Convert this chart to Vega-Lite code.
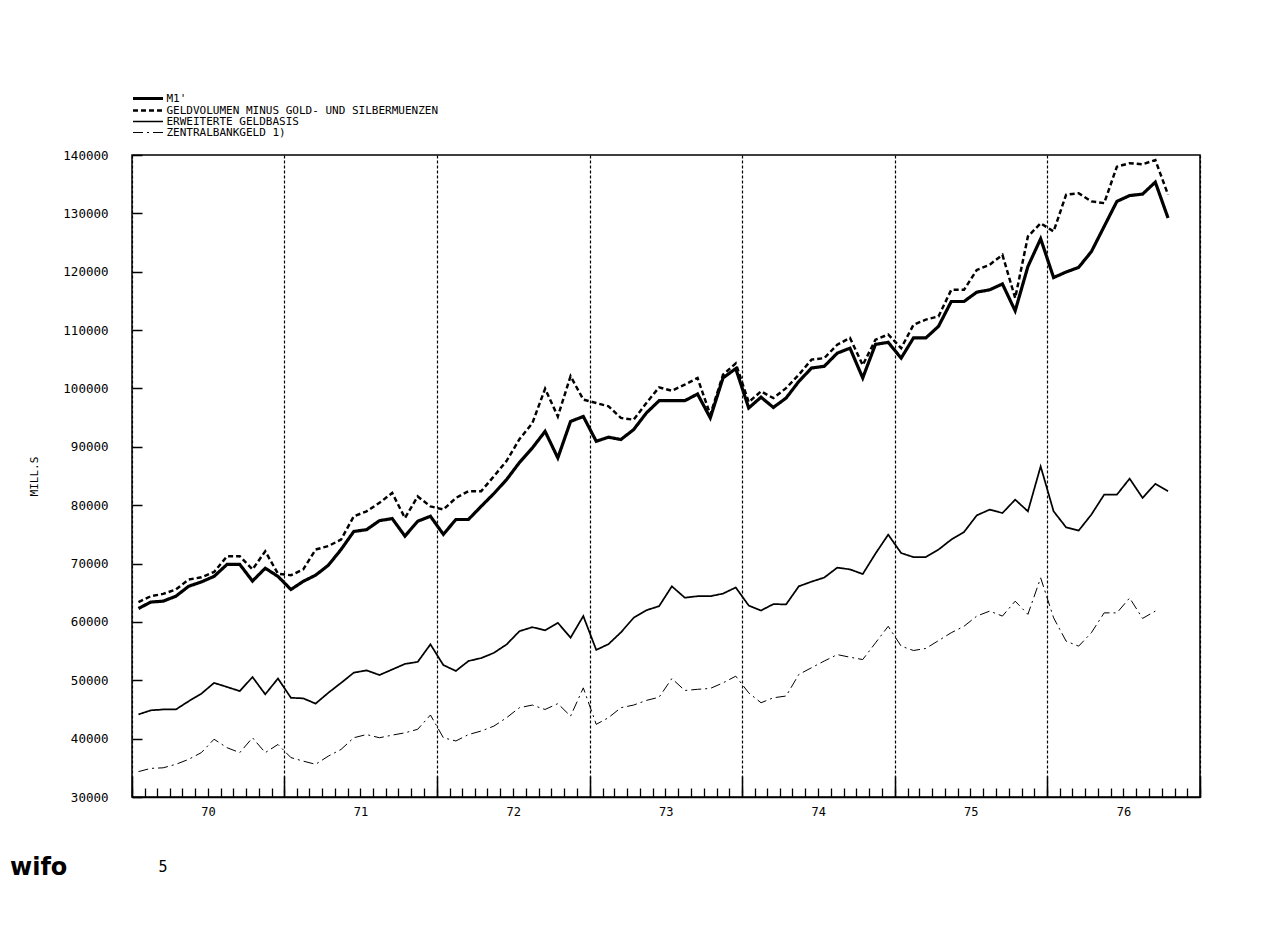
{
  "$schema": "https://vega.github.io/schema/vega-lite/v6.json",
  "width": 1068,
  "height": 642,
  "autosize": {"type": "none"},
  "padding": {"left": 132, "top": 155, "right": 68, "bottom": 138},
  "background": "white",
  "config": {
    "view": {"stroke": "black", "strokeWidth": 1.5},
    "font": "DejaVu Sans Mono",
    "axis": {"labelColor": "black", "titleColor": "black", "labelFont": "DejaVu Sans Mono", "titleFont": "DejaVu Sans Mono"}
  },
  "title": {
    "text": "wifo",
    "orient": "bottom",
    "anchor": "start",
    "frame": "group",
    "dx": -122,
    "offset": -18,
    "font": "DejaVu Sans",
    "fontSize": 24,
    "fontWeight": "bold",
    "color": "black"
  },
  "data": {"values": [
    {"date":"1970-01","series":"M1'","value":62300},{"date":"1970-02","series":"M1'","value":63400},{"date":"1970-03","series":"M1'","value":63550},{"date":"1970-04","series":"M1'","value":64400},{"date":"1970-05","series":"M1'","value":66100},{"date":"1970-06","series":"M1'","value":66850},{"date":"1970-07","series":"M1'","value":67800},{"date":"1970-08","series":"M1'","value":69850},{"date":"1970-09","series":"M1'","value":69850},{"date":"1970-10","series":"M1'","value":67000},{"date":"1970-11","series":"M1'","value":69200},{"date":"1970-12","series":"M1'","value":67800},
    {"date":"1971-01","series":"M1'","value":65550},{"date":"1971-02","series":"M1'","value":66950},{"date":"1971-03","series":"M1'","value":68000},{"date":"1971-04","series":"M1'","value":69700},{"date":"1971-05","series":"M1'","value":72400},{"date":"1971-06","series":"M1'","value":75500},{"date":"1971-07","series":"M1'","value":75800},{"date":"1971-08","series":"M1'","value":77350},{"date":"1971-09","series":"M1'","value":77700},{"date":"1971-10","series":"M1'","value":74700},{"date":"1971-11","series":"M1'","value":77250},{"date":"1971-12","series":"M1'","value":78100},
    {"date":"1972-01","series":"M1'","value":75000},{"date":"1972-02","series":"M1'","value":77550},{"date":"1972-03","series":"M1'","value":77550},{"date":"1972-04","series":"M1'","value":79800},{"date":"1972-05","series":"M1'","value":82000},{"date":"1972-06","series":"M1'","value":84400},{"date":"1972-07","series":"M1'","value":87300},{"date":"1972-08","series":"M1'","value":89800},{"date":"1972-09","series":"M1'","value":92650},{"date":"1972-10","series":"M1'","value":88100},{"date":"1972-11","series":"M1'","value":94350},{"date":"1972-12","series":"M1'","value":95200},
    {"date":"1973-01","series":"M1'","value":90950},{"date":"1973-02","series":"M1'","value":91650},{"date":"1973-03","series":"M1'","value":91250},{"date":"1973-04","series":"M1'","value":92950},{"date":"1973-05","series":"M1'","value":95800},{"date":"1973-06","series":"M1'","value":97900},{"date":"1973-07","series":"M1'","value":97900},{"date":"1973-08","series":"M1'","value":97900},{"date":"1973-09","series":"M1'","value":99050},{"date":"1973-10","series":"M1'","value":94950},{"date":"1973-11","series":"M1'","value":101800},{"date":"1973-12","series":"M1'","value":103400},
    {"date":"1974-01","series":"M1'","value":96650},{"date":"1974-02","series":"M1'","value":98500},{"date":"1974-03","series":"M1'","value":96750},{"date":"1974-04","series":"M1'","value":98350},{"date":"1974-05","series":"M1'","value":101200},{"date":"1974-06","series":"M1'","value":103500},{"date":"1974-07","series":"M1'","value":103800},{"date":"1974-08","series":"M1'","value":106050},{"date":"1974-09","series":"M1'","value":106900},{"date":"1974-10","series":"M1'","value":101800},{"date":"1974-11","series":"M1'","value":107550},{"date":"1974-12","series":"M1'","value":107900},
    {"date":"1975-01","series":"M1'","value":105200},{"date":"1975-02","series":"M1'","value":108650},{"date":"1975-03","series":"M1'","value":108650},{"date":"1975-04","series":"M1'","value":110650},{"date":"1975-05","series":"M1'","value":114900},{"date":"1975-06","series":"M1'","value":114900},{"date":"1975-07","series":"M1'","value":116500},{"date":"1975-08","series":"M1'","value":116900},{"date":"1975-09","series":"M1'","value":117900},{"date":"1975-10","series":"M1'","value":113300},{"date":"1975-11","series":"M1'","value":120900},{"date":"1975-12","series":"M1'","value":125650},
    {"date":"1976-01","series":"M1'","value":119000},{"date":"1976-02","series":"M1'","value":119950},{"date":"1976-03","series":"M1'","value":120750},{"date":"1976-04","series":"M1'","value":123450},{"date":"1976-05","series":"M1'","value":127750},{"date":"1976-06","series":"M1'","value":132050},{"date":"1976-07","series":"M1'","value":133050},{"date":"1976-08","series":"M1'","value":133300},{"date":"1976-09","series":"M1'","value":135350},{"date":"1976-10","series":"M1'","value":129200},

    {"date":"1970-01","series":"GELDVOLUMEN MINUS GOLD- UND SILBERMUENZEN","value":63400},{"date":"1970-02","series":"GELDVOLUMEN MINUS GOLD- UND SILBERMUENZEN","value":64400},{"date":"1970-03","series":"GELDVOLUMEN MINUS GOLD- UND SILBERMUENZEN","value":64800},{"date":"1970-04","series":"GELDVOLUMEN MINUS GOLD- UND SILBERMUENZEN","value":65550},{"date":"1970-05","series":"GELDVOLUMEN MINUS GOLD- UND SILBERMUENZEN","value":67250},{"date":"1970-06","series":"GELDVOLUMEN MINUS GOLD- UND SILBERMUENZEN","value":67650},{"date":"1970-07","series":"GELDVOLUMEN MINUS GOLD- UND SILBERMUENZEN","value":68550},{"date":"1970-08","series":"GELDVOLUMEN MINUS GOLD- UND SILBERMUENZEN","value":71250},{"date":"1970-09","series":"GELDVOLUMEN MINUS GOLD- UND SILBERMUENZEN","value":71250},{"date":"1970-10","series":"GELDVOLUMEN MINUS GOLD- UND SILBERMUENZEN","value":69000},{"date":"1970-11","series":"GELDVOLUMEN MINUS GOLD- UND SILBERMUENZEN","value":72100},{"date":"1970-12","series":"GELDVOLUMEN MINUS GOLD- UND SILBERMUENZEN","value":68250},
    {"date":"1971-01","series":"GELDVOLUMEN MINUS GOLD- UND SILBERMUENZEN","value":68000},{"date":"1971-02","series":"GELDVOLUMEN MINUS GOLD- UND SILBERMUENZEN","value":69000},{"date":"1971-03","series":"GELDVOLUMEN MINUS GOLD- UND SILBERMUENZEN","value":72400},{"date":"1971-04","series":"GELDVOLUMEN MINUS GOLD- UND SILBERMUENZEN","value":73000},{"date":"1971-05","series":"GELDVOLUMEN MINUS GOLD- UND SILBERMUENZEN","value":74100},{"date":"1971-06","series":"GELDVOLUMEN MINUS GOLD- UND SILBERMUENZEN","value":78100},{"date":"1971-07","series":"GELDVOLUMEN MINUS GOLD- UND SILBERMUENZEN","value":78950},{"date":"1971-08","series":"GELDVOLUMEN MINUS GOLD- UND SILBERMUENZEN","value":80400},{"date":"1971-09","series":"GELDVOLUMEN MINUS GOLD- UND SILBERMUENZEN","value":82100},{"date":"1971-10","series":"GELDVOLUMEN MINUS GOLD- UND SILBERMUENZEN","value":77800},{"date":"1971-11","series":"GELDVOLUMEN MINUS GOLD- UND SILBERMUENZEN","value":81500},{"date":"1971-12","series":"GELDVOLUMEN MINUS GOLD- UND SILBERMUENZEN","value":79800},
    {"date":"1972-01","series":"GELDVOLUMEN MINUS GOLD- UND SILBERMUENZEN","value":79250},{"date":"1972-02","series":"GELDVOLUMEN MINUS GOLD- UND SILBERMUENZEN","value":81250},{"date":"1972-03","series":"GELDVOLUMEN MINUS GOLD- UND SILBERMUENZEN","value":82400},{"date":"1972-04","series":"GELDVOLUMEN MINUS GOLD- UND SILBERMUENZEN","value":82400},{"date":"1972-05","series":"GELDVOLUMEN MINUS GOLD- UND SILBERMUENZEN","value":84950},{"date":"1972-06","series":"GELDVOLUMEN MINUS GOLD- UND SILBERMUENZEN","value":87600},{"date":"1972-07","series":"GELDVOLUMEN MINUS GOLD- UND SILBERMUENZEN","value":91300},{"date":"1972-08","series":"GELDVOLUMEN MINUS GOLD- UND SILBERMUENZEN","value":94050},{"date":"1972-09","series":"GELDVOLUMEN MINUS GOLD- UND SILBERMUENZEN","value":99950},{"date":"1972-10","series":"GELDVOLUMEN MINUS GOLD- UND SILBERMUENZEN","value":95200},{"date":"1972-11","series":"GELDVOLUMEN MINUS GOLD- UND SILBERMUENZEN","value":102100},{"date":"1972-12","series":"GELDVOLUMEN MINUS GOLD- UND SILBERMUENZEN","value":98100},
    {"date":"1973-01","series":"GELDVOLUMEN MINUS GOLD- UND SILBERMUENZEN","value":97500},{"date":"1973-02","series":"GELDVOLUMEN MINUS GOLD- UND SILBERMUENZEN","value":96950},{"date":"1973-03","series":"GELDVOLUMEN MINUS GOLD- UND SILBERMUENZEN","value":94950},{"date":"1973-04","series":"GELDVOLUMEN MINUS GOLD- UND SILBERMUENZEN","value":94650},{"date":"1973-05","series":"GELDVOLUMEN MINUS GOLD- UND SILBERMUENZEN","value":97500},{"date":"1973-06","series":"GELDVOLUMEN MINUS GOLD- UND SILBERMUENZEN","value":100200},{"date":"1973-07","series":"GELDVOLUMEN MINUS GOLD- UND SILBERMUENZEN","value":99600},{"date":"1973-08","series":"GELDVOLUMEN MINUS GOLD- UND SILBERMUENZEN","value":100650},{"date":"1973-09","series":"GELDVOLUMEN MINUS GOLD- UND SILBERMUENZEN","value":101800},{"date":"1973-10","series":"GELDVOLUMEN MINUS GOLD- UND SILBERMUENZEN","value":95500},{"date":"1973-11","series":"GELDVOLUMEN MINUS GOLD- UND SILBERMUENZEN","value":102350},{"date":"1973-12","series":"GELDVOLUMEN MINUS GOLD- UND SILBERMUENZEN","value":104300},
    {"date":"1974-01","series":"GELDVOLUMEN MINUS GOLD- UND SILBERMUENZEN","value":97650},{"date":"1974-02","series":"GELDVOLUMEN MINUS GOLD- UND SILBERMUENZEN","value":99500},{"date":"1974-03","series":"GELDVOLUMEN MINUS GOLD- UND SILBERMUENZEN","value":98350},{"date":"1974-04","series":"GELDVOLUMEN MINUS GOLD- UND SILBERMUENZEN","value":100050},{"date":"1974-05","series":"GELDVOLUMEN MINUS GOLD- UND SILBERMUENZEN","value":102350},{"date":"1974-06","series":"GELDVOLUMEN MINUS GOLD- UND SILBERMUENZEN","value":104950},{"date":"1974-07","series":"GELDVOLUMEN MINUS GOLD- UND SILBERMUENZEN","value":105200},{"date":"1974-08","series":"GELDVOLUMEN MINUS GOLD- UND SILBERMUENZEN","value":107500},{"date":"1974-09","series":"GELDVOLUMEN MINUS GOLD- UND SILBERMUENZEN","value":108650},{"date":"1974-10","series":"GELDVOLUMEN MINUS GOLD- UND SILBERMUENZEN","value":104000},{"date":"1974-11","series":"GELDVOLUMEN MINUS GOLD- UND SILBERMUENZEN","value":108350},{"date":"1974-12","series":"GELDVOLUMEN MINUS GOLD- UND SILBERMUENZEN","value":109250},
    {"date":"1975-01","series":"GELDVOLUMEN MINUS GOLD- UND SILBERMUENZEN","value":106900},{"date":"1975-02","series":"GELDVOLUMEN MINUS GOLD- UND SILBERMUENZEN","value":110900},{"date":"1975-03","series":"GELDVOLUMEN MINUS GOLD- UND SILBERMUENZEN","value":111800},{"date":"1975-04","series":"GELDVOLUMEN MINUS GOLD- UND SILBERMUENZEN","value":112350},{"date":"1975-05","series":"GELDVOLUMEN MINUS GOLD- UND SILBERMUENZEN","value":116900},{"date":"1975-06","series":"GELDVOLUMEN MINUS GOLD- UND SILBERMUENZEN","value":116900},{"date":"1975-07","series":"GELDVOLUMEN MINUS GOLD- UND SILBERMUENZEN","value":120300},{"date":"1975-08","series":"GELDVOLUMEN MINUS GOLD- UND SILBERMUENZEN","value":121200},{"date":"1975-09","series":"GELDVOLUMEN MINUS GOLD- UND SILBERMUENZEN","value":122900},{"date":"1975-10","series":"GELDVOLUMEN MINUS GOLD- UND SILBERMUENZEN","value":115500},{"date":"1975-11","series":"GELDVOLUMEN MINUS GOLD- UND SILBERMUENZEN","value":126050},{"date":"1975-12","series":"GELDVOLUMEN MINUS GOLD- UND SILBERMUENZEN","value":128300},
    {"date":"1976-01","series":"GELDVOLUMEN MINUS GOLD- UND SILBERMUENZEN","value":126900},{"date":"1976-02","series":"GELDVOLUMEN MINUS GOLD- UND SILBERMUENZEN","value":133200},{"date":"1976-03","series":"GELDVOLUMEN MINUS GOLD- UND SILBERMUENZEN","value":133450},{"date":"1976-04","series":"GELDVOLUMEN MINUS GOLD- UND SILBERMUENZEN","value":132050},{"date":"1976-05","series":"GELDVOLUMEN MINUS GOLD- UND SILBERMUENZEN","value":131750},{"date":"1976-06","series":"GELDVOLUMEN MINUS GOLD- UND SILBERMUENZEN","value":138000},{"date":"1976-07","series":"GELDVOLUMEN MINUS GOLD- UND SILBERMUENZEN","value":138600},{"date":"1976-08","series":"GELDVOLUMEN MINUS GOLD- UND SILBERMUENZEN","value":138400},{"date":"1976-09","series":"GELDVOLUMEN MINUS GOLD- UND SILBERMUENZEN","value":139150},{"date":"1976-10","series":"GELDVOLUMEN MINUS GOLD- UND SILBERMUENZEN","value":133200},

    {"date":"1970-01","series":"ERWEITERTE GELDBASIS","value":44150},{"date":"1970-02","series":"ERWEITERTE GELDBASIS","value":44850},{"date":"1970-03","series":"ERWEITERTE GELDBASIS","value":45000},{"date":"1970-04","series":"ERWEITERTE GELDBASIS","value":45000},{"date":"1970-05","series":"ERWEITERTE GELDBASIS","value":46400},{"date":"1970-06","series":"ERWEITERTE GELDBASIS","value":47700},{"date":"1970-07","series":"ERWEITERTE GELDBASIS","value":49550},{"date":"1970-08","series":"ERWEITERTE GELDBASIS","value":48850},{"date":"1970-09","series":"ERWEITERTE GELDBASIS","value":48150},{"date":"1970-10","series":"ERWEITERTE GELDBASIS","value":50550},{"date":"1970-11","series":"ERWEITERTE GELDBASIS","value":47600},{"date":"1970-12","series":"ERWEITERTE GELDBASIS","value":50300},
    {"date":"1971-01","series":"ERWEITERTE GELDBASIS","value":47000},{"date":"1971-02","series":"ERWEITERTE GELDBASIS","value":46900},{"date":"1971-03","series":"ERWEITERTE GELDBASIS","value":46000},{"date":"1971-04","series":"ERWEITERTE GELDBASIS","value":47850},{"date":"1971-05","series":"ERWEITERTE GELDBASIS","value":49550},{"date":"1971-06","series":"ERWEITERTE GELDBASIS","value":51300},{"date":"1971-07","series":"ERWEITERTE GELDBASIS","value":51700},{"date":"1971-08","series":"ERWEITERTE GELDBASIS","value":50900},{"date":"1971-09","series":"ERWEITERTE GELDBASIS","value":51850},{"date":"1971-10","series":"ERWEITERTE GELDBASIS","value":52800},{"date":"1971-11","series":"ERWEITERTE GELDBASIS","value":53150},{"date":"1971-12","series":"ERWEITERTE GELDBASIS","value":56150},
    {"date":"1972-01","series":"ERWEITERTE GELDBASIS","value":52600},{"date":"1972-02","series":"ERWEITERTE GELDBASIS","value":51600},{"date":"1972-03","series":"ERWEITERTE GELDBASIS","value":53300},{"date":"1972-04","series":"ERWEITERTE GELDBASIS","value":53800},{"date":"1972-05","series":"ERWEITERTE GELDBASIS","value":54700},{"date":"1972-06","series":"ERWEITERTE GELDBASIS","value":56150},{"date":"1972-07","series":"ERWEITERTE GELDBASIS","value":58400},{"date":"1972-08","series":"ERWEITERTE GELDBASIS","value":59100},{"date":"1972-09","series":"ERWEITERTE GELDBASIS","value":58550},{"date":"1972-10","series":"ERWEITERTE GELDBASIS","value":59850},{"date":"1972-11","series":"ERWEITERTE GELDBASIS","value":57300},{"date":"1972-12","series":"ERWEITERTE GELDBASIS","value":61000},
    {"date":"1973-01","series":"ERWEITERTE GELDBASIS","value":55200},{"date":"1973-02","series":"ERWEITERTE GELDBASIS","value":56200},{"date":"1973-03","series":"ERWEITERTE GELDBASIS","value":58200},{"date":"1973-04","series":"ERWEITERTE GELDBASIS","value":60700},{"date":"1973-05","series":"ERWEITERTE GELDBASIS","value":62000},{"date":"1973-06","series":"ERWEITERTE GELDBASIS","value":62700},{"date":"1973-07","series":"ERWEITERTE GELDBASIS","value":66100},{"date":"1973-08","series":"ERWEITERTE GELDBASIS","value":64150},{"date":"1973-09","series":"ERWEITERTE GELDBASIS","value":64400},{"date":"1973-10","series":"ERWEITERTE GELDBASIS","value":64400},{"date":"1973-11","series":"ERWEITERTE GELDBASIS","value":64850},{"date":"1973-12","series":"ERWEITERTE GELDBASIS","value":65900},
    {"date":"1974-01","series":"ERWEITERTE GELDBASIS","value":62800},{"date":"1974-02","series":"ERWEITERTE GELDBASIS","value":61950},{"date":"1974-03","series":"ERWEITERTE GELDBASIS","value":63050},{"date":"1974-04","series":"ERWEITERTE GELDBASIS","value":63000},{"date":"1974-05","series":"ERWEITERTE GELDBASIS","value":66100},{"date":"1974-06","series":"ERWEITERTE GELDBASIS","value":66900},{"date":"1974-07","series":"ERWEITERTE GELDBASIS","value":67600},{"date":"1974-08","series":"ERWEITERTE GELDBASIS","value":69300},{"date":"1974-09","series":"ERWEITERTE GELDBASIS","value":69000},{"date":"1974-10","series":"ERWEITERTE GELDBASIS","value":68200},{"date":"1974-11","series":"ERWEITERTE GELDBASIS","value":71700},{"date":"1974-12","series":"ERWEITERTE GELDBASIS","value":74950},
    {"date":"1975-01","series":"ERWEITERTE GELDBASIS","value":71800},{"date":"1975-02","series":"ERWEITERTE GELDBASIS","value":71100},{"date":"1975-03","series":"ERWEITERTE GELDBASIS","value":71100},{"date":"1975-04","series":"ERWEITERTE GELDBASIS","value":72400},{"date":"1975-05","series":"ERWEITERTE GELDBASIS","value":74100},{"date":"1975-06","series":"ERWEITERTE GELDBASIS","value":75400},{"date":"1975-07","series":"ERWEITERTE GELDBASIS","value":78250},{"date":"1975-08","series":"ERWEITERTE GELDBASIS","value":79250},{"date":"1975-09","series":"ERWEITERTE GELDBASIS","value":78650},{"date":"1975-10","series":"ERWEITERTE GELDBASIS","value":80950},{"date":"1975-11","series":"ERWEITERTE GELDBASIS","value":78950},{"date":"1975-12","series":"ERWEITERTE GELDBASIS","value":86650},
    {"date":"1976-01","series":"ERWEITERTE GELDBASIS","value":78950},{"date":"1976-02","series":"ERWEITERTE GELDBASIS","value":76200},{"date":"1976-03","series":"ERWEITERTE GELDBASIS","value":75650},{"date":"1976-04","series":"ERWEITERTE GELDBASIS","value":78400},{"date":"1976-05","series":"ERWEITERTE GELDBASIS","value":81800},{"date":"1976-06","series":"ERWEITERTE GELDBASIS","value":81800},{"date":"1976-07","series":"ERWEITERTE GELDBASIS","value":84550},{"date":"1976-08","series":"ERWEITERTE GELDBASIS","value":81250},{"date":"1976-09","series":"ERWEITERTE GELDBASIS","value":83650},{"date":"1976-10","series":"ERWEITERTE GELDBASIS","value":82400},

    {"date":"1970-01","series":"ZENTRALBANKGELD 1)","value":34350},{"date":"1970-02","series":"ZENTRALBANKGELD 1)","value":34900},{"date":"1970-03","series":"ZENTRALBANKGELD 1)","value":35000},{"date":"1970-04","series":"ZENTRALBANKGELD 1)","value":35600},{"date":"1970-05","series":"ZENTRALBANKGELD 1)","value":36450},{"date":"1970-06","series":"ZENTRALBANKGELD 1)","value":37600},{"date":"1970-07","series":"ZENTRALBANKGELD 1)","value":39900},{"date":"1970-08","series":"ZENTRALBANKGELD 1)","value":38450},{"date":"1970-09","series":"ZENTRALBANKGELD 1)","value":37600},{"date":"1970-10","series":"ZENTRALBANKGELD 1)","value":40150},{"date":"1970-11","series":"ZENTRALBANKGELD 1)","value":37600},{"date":"1970-12","series":"ZENTRALBANKGELD 1)","value":39000},
    {"date":"1971-01","series":"ZENTRALBANKGELD 1)","value":36750},{"date":"1971-02","series":"ZENTRALBANKGELD 1)","value":36150},{"date":"1971-03","series":"ZENTRALBANKGELD 1)","value":35600},{"date":"1971-04","series":"ZENTRALBANKGELD 1)","value":37000},{"date":"1971-05","series":"ZENTRALBANKGELD 1)","value":38150},{"date":"1971-06","series":"ZENTRALBANKGELD 1)","value":40150},{"date":"1971-07","series":"ZENTRALBANKGELD 1)","value":40700},{"date":"1971-08","series":"ZENTRALBANKGELD 1)","value":40150},{"date":"1971-09","series":"ZENTRALBANKGELD 1)","value":40600},{"date":"1971-10","series":"ZENTRALBANKGELD 1)","value":41000},{"date":"1971-11","series":"ZENTRALBANKGELD 1)","value":41600},{"date":"1971-12","series":"ZENTRALBANKGELD 1)","value":44050},
    {"date":"1972-01","series":"ZENTRALBANKGELD 1)","value":40150},{"date":"1972-02","series":"ZENTRALBANKGELD 1)","value":39600},{"date":"1972-03","series":"ZENTRALBANKGELD 1)","value":40700},{"date":"1972-04","series":"ZENTRALBANKGELD 1)","value":41300},{"date":"1972-05","series":"ZENTRALBANKGELD 1)","value":42150},{"date":"1972-06","series":"ZENTRALBANKGELD 1)","value":43600},{"date":"1972-07","series":"ZENTRALBANKGELD 1)","value":45300},{"date":"1972-08","series":"ZENTRALBANKGELD 1)","value":45750},{"date":"1972-09","series":"ZENTRALBANKGELD 1)","value":45000},{"date":"1972-10","series":"ZENTRALBANKGELD 1)","value":46000},{"date":"1972-11","series":"ZENTRALBANKGELD 1)","value":43850},{"date":"1972-12","series":"ZENTRALBANKGELD 1)","value":48700},
    {"date":"1973-01","series":"ZENTRALBANKGELD 1)","value":42450},{"date":"1973-02","series":"ZENTRALBANKGELD 1)","value":43600},{"date":"1973-03","series":"ZENTRALBANKGELD 1)","value":45300},{"date":"1973-04","series":"ZENTRALBANKGELD 1)","value":45750},{"date":"1973-05","series":"ZENTRALBANKGELD 1)","value":46550},{"date":"1973-06","series":"ZENTRALBANKGELD 1)","value":47100},{"date":"1973-07","series":"ZENTRALBANKGELD 1)","value":50300},{"date":"1973-08","series":"ZENTRALBANKGELD 1)","value":48250},{"date":"1973-09","series":"ZENTRALBANKGELD 1)","value":48450},{"date":"1973-10","series":"ZENTRALBANKGELD 1)","value":48600},{"date":"1973-11","series":"ZENTRALBANKGELD 1)","value":49550},{"date":"1973-12","series":"ZENTRALBANKGELD 1)","value":50700},
    {"date":"1974-01","series":"ZENTRALBANKGELD 1)","value":47850},{"date":"1974-02","series":"ZENTRALBANKGELD 1)","value":46150},{"date":"1974-03","series":"ZENTRALBANKGELD 1)","value":47000},{"date":"1974-04","series":"ZENTRALBANKGELD 1)","value":47300},{"date":"1974-05","series":"ZENTRALBANKGELD 1)","value":51000},{"date":"1974-06","series":"ZENTRALBANKGELD 1)","value":52150},{"date":"1974-07","series":"ZENTRALBANKGELD 1)","value":53300},{"date":"1974-08","series":"ZENTRALBANKGELD 1)","value":54400},{"date":"1974-09","series":"ZENTRALBANKGELD 1)","value":53950},{"date":"1974-10","series":"ZENTRALBANKGELD 1)","value":53550},{"date":"1974-11","series":"ZENTRALBANKGELD 1)","value":56400},{"date":"1974-12","series":"ZENTRALBANKGELD 1)","value":59250},
    {"date":"1975-01","series":"ZENTRALBANKGELD 1)","value":55850},{"date":"1975-02","series":"ZENTRALBANKGELD 1)","value":55100},{"date":"1975-03","series":"ZENTRALBANKGELD 1)","value":55450},{"date":"1975-04","series":"ZENTRALBANKGELD 1)","value":56800},{"date":"1975-05","series":"ZENTRALBANKGELD 1)","value":58150},{"date":"1975-06","series":"ZENTRALBANKGELD 1)","value":59250},{"date":"1975-07","series":"ZENTRALBANKGELD 1)","value":61000},{"date":"1975-08","series":"ZENTRALBANKGELD 1)","value":61850},{"date":"1975-09","series":"ZENTRALBANKGELD 1)","value":61000},{"date":"1975-10","series":"ZENTRALBANKGELD 1)","value":63550},{"date":"1975-11","series":"ZENTRALBANKGELD 1)","value":61300},{"date":"1975-12","series":"ZENTRALBANKGELD 1)","value":67550},
    {"date":"1976-01","series":"ZENTRALBANKGELD 1)","value":60700},{"date":"1976-02","series":"ZENTRALBANKGELD 1)","value":56700},{"date":"1976-03","series":"ZENTRALBANKGELD 1)","value":55850},{"date":"1976-04","series":"ZENTRALBANKGELD 1)","value":58150},{"date":"1976-05","series":"ZENTRALBANKGELD 1)","value":61550},{"date":"1976-06","series":"ZENTRALBANKGELD 1)","value":61550},{"date":"1976-07","series":"ZENTRALBANKGELD 1)","value":64100},{"date":"1976-08","series":"ZENTRALBANKGELD 1)","value":60600},{"date":"1976-09","series":"ZENTRALBANKGELD 1)","value":61850}
  ]},
  "layer": [
    {
      "mark": {"type": "line", "strokeOpacity": 0},
      "encoding": {
        "x": {"field": "date", "timeUnit": "utcyearmonth", "type": "temporal", "bandPosition": 0.5,
              "scale": {"domain": [{"year": 1970, "month": 1, "date": 1, "utc": true}, {"year": 1977, "month": 1, "date": 1, "utc": true}]},
              "axis": {"orient": "bottom", "values": [{"year": 1970, "month": 1, "date": 1, "utc": true}, {"year": 1971, "month": 1, "date": 1, "utc": true}, {"year": 1972, "month": 1, "date": 1, "utc": true}, {"year": 1973, "month": 1, "date": 1, "utc": true}, {"year": 1974, "month": 1, "date": 1, "utc": true}, {"year": 1975, "month": 1, "date": 1, "utc": true}, {"year": 1976, "month": 1, "date": 1, "utc": true}, {"year": 1977, "month": 1, "date": 1, "utc": true}],
                       "labels": false, "domain": false, "title": null, "grid": true, "gridColor": "black", "gridOpacity": 1, "gridDash": [3, 2], "gridWidth": 1.2,
                       "ticks": true, "tickSize": -21, "tickColor": "black", "tickWidth": 1.5}},
        "y": {"field": "value", "type": "quantitative", "scale": {"domain": [30000, 140000], "nice": false, "zero": false}, "axis": null},
        "detail": {"field": "series"}
      }
    },
    {
      "mark": {"type": "line", "strokeOpacity": 0},
      "encoding": {
        "x": {"field": "date", "timeUnit": "utcyearmonth", "type": "temporal", "bandPosition": 0.5,
              "axis": {"orient": "bottom", "tickCount": {"interval": "month", "step": 1}, "labels": false, "domain": true, "domainColor": "black", "domainWidth": 1.5, "grid": false,
                       "ticks": true, "tickSize": -9, "tickColor": "black", "tickWidth": 1.3,
                       "title": "5", "titleFont": "DejaVu Sans Mono", "titleFontSize": 15, "titleFontWeight": "normal", "titleColor": "black",
                       "titleX": 26, "titleY": 69, "titleAlign": "left", "titleBaseline": "middle", "titleAnchor": "start"}},
        "y": {"field": "value", "type": "quantitative",
              "axis": {"orient": "left", "values": [30000, 40000, 50000, 60000, 70000, 80000, 90000, 100000, 110000, 120000, 130000, 140000], "labels": false, "domain": false, "grid": false, "title": null,
                       "ticks": true, "tickSize": -10, "tickColor": "black", "tickWidth": 1.5}},
        "detail": {"field": "series"}
      }
    },
    {
      "mark": {"type": "line", "color": "black", "strokeJoin": "miter"},
      "encoding": {
        "x": {"field": "date", "timeUnit": "utcyearmonth", "type": "temporal", "bandPosition": 0.5,
              "axis": {"orient": "bottom", "values": [{"year": 1970, "month": 7, "date": 2, "utc": true}, {"year": 1971, "month": 7, "date": 2, "utc": true}, {"year": 1972, "month": 7, "date": 2, "utc": true}, {"year": 1973, "month": 7, "date": 2, "utc": true}, {"year": 1974, "month": 7, "date": 2, "utc": true}, {"year": 1975, "month": 7, "date": 2, "utc": true}, {"year": 1976, "month": 7, "date": 2, "utc": true}],
                       "labelExpr": "utcFormat(datum.value, '%y')", "labelFontSize": 12, "labelPadding": 9, "labelFlush": false, "labelOverlap": false,
                       "ticks": false, "domain": false, "grid": false, "title": null}},
        "y": {"field": "value", "type": "quantitative",
              "axis": {"orient": "left", "values": [30000, 40000, 50000, 60000, 70000, 80000, 90000, 100000, 110000, 120000, 130000, 140000], "format": "d",
                       "labelFontSize": 12.5, "labelPadding": 24, "ticks": false, "domain": false, "grid": false,
                       "title": "MILL.S", "titleFontSize": 11, "titleFontWeight": "normal", "titleX": -98, "titleY": 321, "titleAngle": -90, "titleAlign": "center", "titleBaseline": "middle"}},
        "strokeDash": {"field": "series", "type": "nominal",
                       "scale": {"domain": ["M1'", "GELDVOLUMEN MINUS GOLD- UND SILBERMUENZEN", "ERWEITERTE GELDBASIS", "ZENTRALBANKGELD 1)"], "range": [[1, 0], [5, 3], [1, 0], [10, 4, 2, 4]]},
                       "legend": {"orient": "none", "legendX": 10.5, "legendY": -62, "title": null, "symbolType": "M-6,0H6", "symbolSize": 25, "symbolStrokeColor": "black",
                                  "labelFont": "DejaVu Sans Mono", "labelFontSize": 11, "labelColor": "black", "labelLimit": 600, "labelOffset": 13, "rowPadding": -1.5}},
        "strokeWidth": {"field": "series", "type": "ordinal",
                        "scale": {"domain": ["M1'", "GELDVOLUMEN MINUS GOLD- UND SILBERMUENZEN", "ERWEITERTE GELDBASIS", "ZENTRALBANKGELD 1)"], "range": [3.2, 1.0, 1.4, 1.4]},
                        "legend": {"orient": "none", "legendX": 10.5, "legendY": -62, "title": null, "symbolType": "M-6,0H6", "symbolSize": 25, "symbolStrokeColor": "black",
                                   "labelFont": "DejaVu Sans Mono", "labelFontSize": 11, "labelColor": "black", "labelLimit": 600, "labelOffset": 13, "rowPadding": -1.5}}
      }
    }
  ],
  "resolve": {"axis": {"x": "independent", "y": "independent"}}
}
